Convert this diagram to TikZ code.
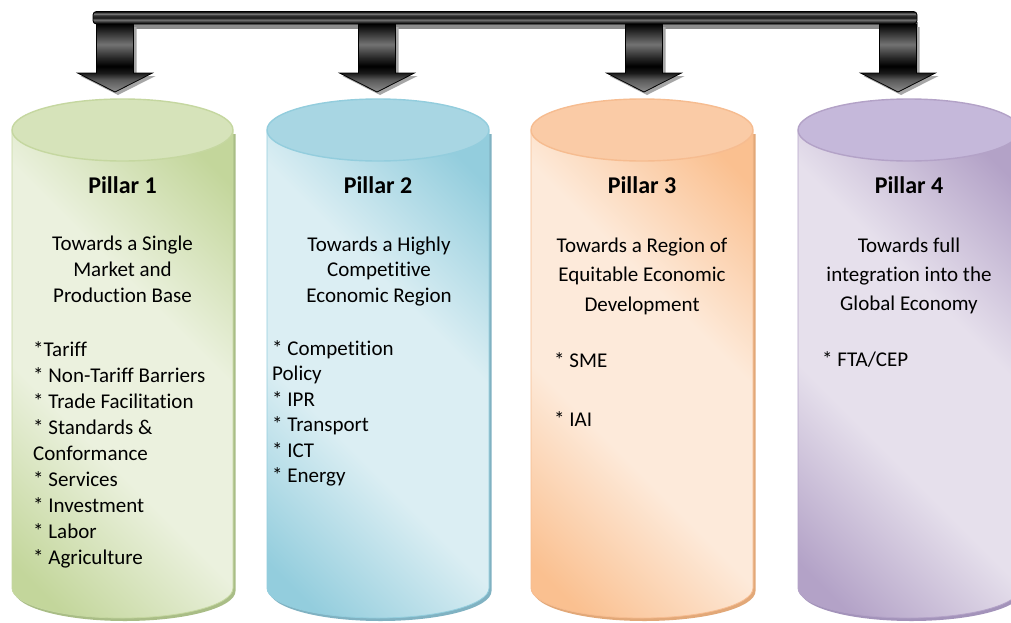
\documentclass[tikz,border=0pt]{standalone}
\usepackage{fontspec}
\setmainfont{Carlito}[Ligatures=NoCommon]
\definecolor{gDark}{HTML}{C3D69B}\definecolor{gLight}{HTML}{EBF1DE}\definecolor{gTop}{HTML}{D6E3BA}\definecolor{gLine}{HTML}{C5D7A0}\definecolor{gShadow}{HTML}{A9BD86}
\definecolor{bDark}{HTML}{93CDDD}\definecolor{bLight}{HTML}{DBEEF3}\definecolor{bTop}{HTML}{A8D6E3}\definecolor{bLine}{HTML}{93CDDD}\definecolor{bShadow}{HTML}{80B2C2}
\definecolor{oDark}{HTML}{FAC090}\definecolor{oLight}{HTML}{FDEADA}\definecolor{oTop}{HTML}{FACBA6}\definecolor{oLine}{HTML}{F6BC90}\definecolor{oShadow}{HTML}{E2A878}
\definecolor{pDark}{HTML}{B3A2C7}\definecolor{pLight}{HTML}{E6E0EC}\definecolor{pTop}{HTML}{C5B8DA}\definecolor{pLine}{HTML}{B3A2C7}\definecolor{pShadow}{HTML}{A393BA}
\pgfdeclareverticalshading{barshade}{100bp}{color(0bp)=(black); color(25bp)=(black); color(32bp)=(black!85); color(42bp)=(black!55); color(50bp)=(black!90); color(60bp)=(black!80); color(66bp)=(black!50); color(72bp)=(black!85); color(75bp)=(black); color(100bp)=(black)}
\pgfdeclareverticalshading{arrowshade}{100bp}{color(0bp)=(black!45); color(25bp)=(black!45); color(34bp)=(black!65); color(39bp)=(black!90); color(44bp)=(black); color(50bp)=(black!85); color(60bp)=(black!55); color(70bp)=(black!85); color(75bp)=(black); color(100bp)=(black)}
\pgfdeclareverticalshading{gshade}{100bp}{color(0bp)=(gDark); color(20bp)=(gDark); color(40bp)=(gLight); color(60bp)=(gLight); color(80bp)=(gDark); color(100bp)=(gDark)}
\pgfdeclareverticalshading{bshade}{100bp}{color(0bp)=(bDark); color(20bp)=(bDark); color(40bp)=(bLight); color(60bp)=(bLight); color(80bp)=(bDark); color(100bp)=(bDark)}
\pgfdeclareverticalshading{oshade}{100bp}{color(0bp)=(oDark); color(20bp)=(oDark); color(40bp)=(oLight); color(60bp)=(oLight); color(80bp)=(oDark); color(100bp)=(oDark)}
\pgfdeclareverticalshading{pshade}{100bp}{color(0bp)=(pDark); color(20bp)=(pDark); color(40bp)=(pLight); color(60bp)=(pLight); color(80bp)=(pDark); color(100bp)=(pDark)}
\newcommand\drawcyl[7]{%
  \fill[#3, xshift=2.5pt, yshift=-3pt] ({#1-#2},131) -- ({#1-#2},588) arc[start angle=180,end angle=360,x radius=#2pt,y radius=30pt] -- ({#1+#2},131) -- cycle;
  \path[draw=#5, line width=0.8pt, shading=#4, shading angle=-45] ({#1-#2},131) -- ({#1-#2},588) arc[start angle=180,end angle=360,x radius=#2pt,y radius=30pt] -- ({#1+#2},131) -- cycle;
  \path[fill=#6, draw=#5, line width=1.4pt] (#1,130) ellipse[x radius=#2pt, y radius=31pt];
  \node[title, anchor=base] (p#7t) at (#1,193) {Pillar #7};
}
\begin{document}
\begin{tikzpicture}[x=1pt, y=-1pt,
  body/.style={inner sep=0pt, font=\fontsize{21}{25}\selectfont},
  title/.style={inner sep=0pt, font=\fontsize{24}{28}\selectfont\bfseries},
  arrowshadow/.style={fill=black!35, xshift=3pt, yshift=-3pt},
  arrowbody/.style={shading=arrowshade, draw=black, line width=0.8pt}]
\useasboundingbox (0,0) rectangle (1011,622);
\fill[white] (0,0) rectangle (1011,622);
% arrows from the bar to the pillars
\fill[black!45] (96,22) rectangle (918,28.5);
\foreach \c/\n in {115/1,377/2,644/3,898/4}{
  \fill[arrowshadow] (\c-18.5,24) -- (\c-18.5,73) -- (\c-37.5,73) -- (\c,92) -- (\c+37.5,73) -- (\c+18.5,73) -- (\c+18.5,24) -- cycle;
  \path[arrowbody] (\c-18.5,24) -- (\c-18.5,73) -- (\c-37.5,73) -- (\c,92) -- (\c+37.5,73) -- (\c+18.5,73) -- (\c+18.5,24) -- cycle;
  \coordinate (arr\n) at (\c,92);
}
\path[shading=barshade, draw=black, line width=0.9pt, rounded corners=3.5pt] (93,11.5) rectangle (917,24);
\node[inner sep=0pt] (bar) at (505,18) {};
% pillars
\drawcyl{122.5}{110.5}{gShadow}{gshade}{gLine}{gTop}{1}
\drawcyl{378}{111}{bShadow}{bshade}{bLine}{bTop}{2}
\drawcyl{642}{111}{oShadow}{oshade}{oLine}{oTop}{3}
\drawcyl{909}{111}{pShadow}{pshade}{pLine}{pTop}{4}
% pillar 1 text
\foreach \t [count=\i] in {Towards a Single, Market and, Production Base}
  \node[body, anchor=base] (p1d\i) at (122.5,{250+26*(\i-1)}) {\t};
\foreach \t [count=\i] in {*Tariff, * Non-Tariff Barriers, * Trade Facilitation, * Standards \&, Conformance, * Services, * Investment, * Labor, * Agriculture}
  \node[body, anchor=base west] (p1l\i) at (33,{356+26*(\i-1)}) {\t};
% pillar 2 text
\foreach \t [count=\i] in {Towards a Highly, Competitive, Economic Region}
  \node[body, anchor=base] (p2d\i) at (379,{251.5+25.3*(\i-1)}) {\t};
\foreach \t [count=\i] in {* Competition, Policy, * IPR, * Transport, * ICT, * Energy}
  \node[body, anchor=base west] (p2l\i) at (272,{355+25.5*(\i-1)}) {\t};
% pillar 3 text
\foreach \t [count=\i] in {Towards a Region of, Equitable Economic, Development}
  \node[body, anchor=base] (p3d\i) at (642,{252+29.5*(\i-1)}) {\t};
\node[body, anchor=base west] (p3l1) at (554,367) {* SME};
\node[body, anchor=base west] (p3l2) at (554,426) {* IAI};
% pillar 4 text
\foreach \t [count=\i] in {Towards full, integration into the, Global Economy}
  \node[body, anchor=base] (p4d\i) at (909,{252+29*(\i-1)}) {\t};
\node[body, anchor=base west] (p4l1) at (822,366) {* FTA/CEP};
\end{tikzpicture}
\end{document}
